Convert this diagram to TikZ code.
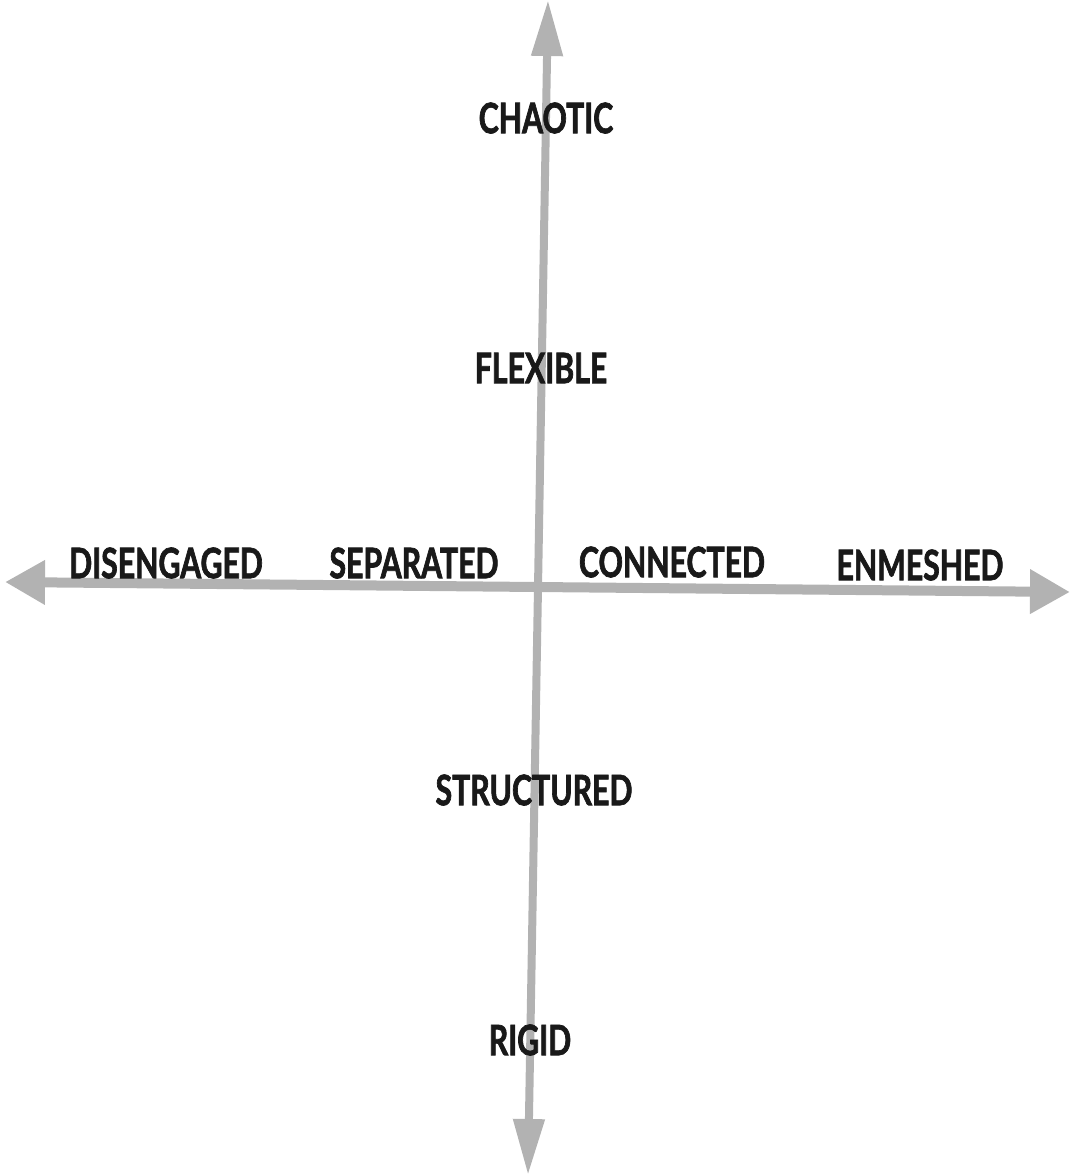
\documentclass[tikz,border=0pt]{standalone}
\usepackage{fontspec}
\newfontfamily\labfont{Lato}[FakeStretch=0.72,FakeBold=1.6]
\usetikzlibrary{arrows.meta}
\begin{document}
\begin{tikzpicture}[x=0.5pt,y=-0.5pt,
  axisH/.style={draw=black!30, line width=5pt, {Triangle[length=20pt,width=21pt]}-{Triangle[length=20pt,width=21pt]}},
  axisV/.style={draw=black!30, line width=4pt, {Triangle[length=28pt,width=15pt]}-{Triangle[length=28pt,width=15pt]}},
  lab/.style={font=\labfont\bfseries\fontsize{21}{24}\selectfont, text=black!90, inner sep=0pt, anchor=center}]
\useasboundingbox (0,0) rectangle (1072,1175);
\coordinate (L) at (5,582);
\coordinate (R) at (1070,592);
\coordinate (T) at (548,0);
\coordinate (B) at (528,1175);
\draw[axisH] (L) -- (R);
\draw[axisV] (T) -- (B);
\node[lab] (chaotic) at (546,118) {CHAOTIC};
\node[lab] (flexible) at (541,368) {FLEXIBLE};
\node[lab] (diseng) at (166,563) {DISENGAGED};
\node[lab] (separ) at (414,563) {SEPARATED};
\node[lab] (conn) at (672,562) {CONNECTED};
\node[lab] (enm) at (920,565) {ENMESHED};
\node[lab] (struct) at (534,790) {STRUCTURED};
\node[lab] (rigid) at (530,1040) {RIGID};
\end{tikzpicture}
\end{document}
